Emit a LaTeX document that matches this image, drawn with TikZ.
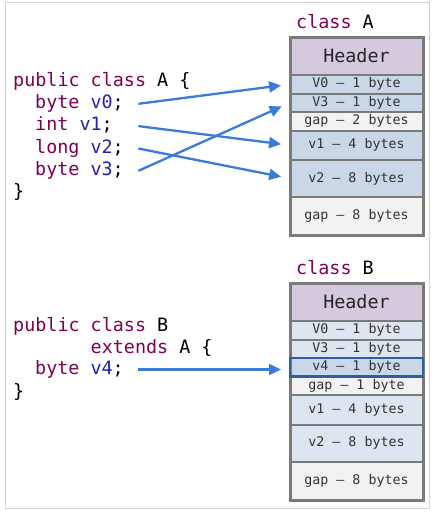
\documentclass[tikz,border=0pt]{standalone}
\usepackage{fontspec}
\setmonofont{DejaVu Sans Mono}
\usepackage{tikz}
\usetikzlibrary{shapes,arrows.meta}
\usetikzlibrary{calc}

\definecolor{kwcol}{HTML}{7F0055}
\definecolor{varcol}{HTML}{1F1FB8}
\definecolor{ptrblue}{HTML}{3B7AD6}
\definecolor{rowline}{HTML}{7A7A7A}
\definecolor{hdrfill}{HTML}{D5C9DE}
\definecolor{fieldfill}{HTML}{C9D7E7}
\definecolor{inhfill}{HTML}{DDE5F0}
\definecolor{gapfill}{HTML}{F2F2F2}
\definecolor{newcol}{HTML}{2C5FA8}
\definecolor{framecol}{HTML}{D3D3D3}

\newcommand{\jkw}[1]{\textcolor{kwcol}{#1}}
\newcommand{\jvar}[1]{\textcolor{varcol}{#1}}
\newcommand{\srcfield}[1]{\makebox[103pt][l]{#1}}

\tikzset{
	code/.style={font=\ttfamily\fontsize{18.4}{22}\selectfont, inner sep=0pt, anchor=base west},
	field/.style={code, text height=13pt, text depth=4pt},
	slot/.style={draw=rowline, line width=2pt, minimum width=133pt, inner sep=0pt, outer sep=0pt, font=\ttfamily\fontsize{13.3}{15}\selectfont, text=black!80},
	hdr/.style={slot, fill=hdrfill, minimum height=38pt, font=\ttfamily\fontsize{18.4}{22}\selectfont, text=black!85},
	ptr/.style={draw=ptrblue, line width=2.3pt, -{Triangle[length=12pt,width=11pt]}, shorten >=9pt}
}

\begin{document}
\begin{tikzpicture}[x=1pt,y=-1pt]
	\useasboundingbox (0,0) rectangle (434,512);
	\draw[framecol, line width=1pt] (5,2) rectangle (429,508);
	
	% class A source
	\node[code] (pubA) at (13,86) {\jkw{public class} A \{};
	\node[field] (v0) at (35,108.3) {\srcfield{\jkw{byte} \jvar{v0};}};
	\node[field] (v1) at (35,130.6) {\srcfield{\jkw{int} \jvar{v1};}};
	\node[field] (v2) at (35,153) {\srcfield{\jkw{long} \jvar{v2};}};
	\node[field] (v3) at (35,175.3) {\srcfield{\jkw{byte} \jvar{v3};}};
	\node[code] (endA) at (13,197.6) {\}};
	
	% class A layout
	\node[code] (lblA) at (296,28) {\jkw{class} A};
	\node[hdr] (hA) at (356.5,56) {Header};
	\node[slot, fill=fieldfill, minimum height=18.5pt] (a0) at (356.5,84.25) {V0 – 1 byte};
	\node[slot, fill=fieldfill, minimum height=18.5pt] (a3) at (356.5,102.75) {V3 – 1 byte};
	\node[slot, fill=gapfill, minimum height=18.5pt] (ag) at (356.5,121.25) {gap – 2 bytes};
	\node[slot, fill=fieldfill, minimum height=29.5pt] (a1) at (356.5,145.25) {v1 – 4 bytes};
	\node[slot, fill=fieldfill, minimum height=37pt] (a2) at (356.5,178.5) {v2 – 8 bytes};
	\node[slot, fill=gapfill, minimum height=38.5pt] (ap) at (356.5,216.25) {gap – 8 bytes};
	\draw[rowline, line width=3pt] (hA.north west) rectangle (ap.south east);
	
	\draw[ptr] (v0.east) -- (a0.west);
	\draw[ptr] (v1.east) -- (a1.west);
	\draw[ptr] (v2.east) -- (a2.west);
	\draw[ptr] (v3.east) -- (a3.west);
	
	% class B source
	\node[code] (pubB) at (13,331) {\jkw{public class} B};
	\node[code] (extB) at (90.5,353.3) {\jkw{extends} A \{};
	\node[field] (v4) at (35,374) {\srcfield{\jkw{byte} \jvar{v4};}};
	\node[code] (endB) at (13,397.9) {\}};
	
	% class B layout
	\node[code] (lblB) at (296,274) {\jkw{class} B};
	\node[hdr] (hB) at (356.5,302) {Header};
	\node[slot, fill=inhfill, minimum height=18.5pt] (b0) at (356.5,330.25) {V0 – 1 byte};
	\node[slot, fill=inhfill, minimum height=18.5pt] (b3) at (356.5,348.75) {V3 – 1 byte};
	\node[slot, fill=fieldfill, minimum height=18.5pt] (b4) at (356.5,367.25) {v4 – 1 byte};
	\node[slot, fill=gapfill, minimum height=18.5pt] (bg) at (356.5,385.75) {gap – 1 byte};
	\node[slot, fill=inhfill, minimum height=29.5pt] (b1) at (356.5,409.75) {v1 – 4 bytes};
	\node[slot, fill=inhfill, minimum height=37pt] (b2) at (356.5,443) {v2 – 8 bytes};
	\node[slot, fill=gapfill, minimum height=38.5pt] (bp) at (356.5,480.75) {gap – 8 bytes};
	\draw[rowline, line width=3pt] (hB.north west) rectangle (bp.south east);
	\draw[newcol, line width=2.5pt] (b4.north west) rectangle (b4.south east);
	
	\draw[ptr] (v4.east) -- (v4.east -| b4.west);
\end{tikzpicture}
\end{document}
